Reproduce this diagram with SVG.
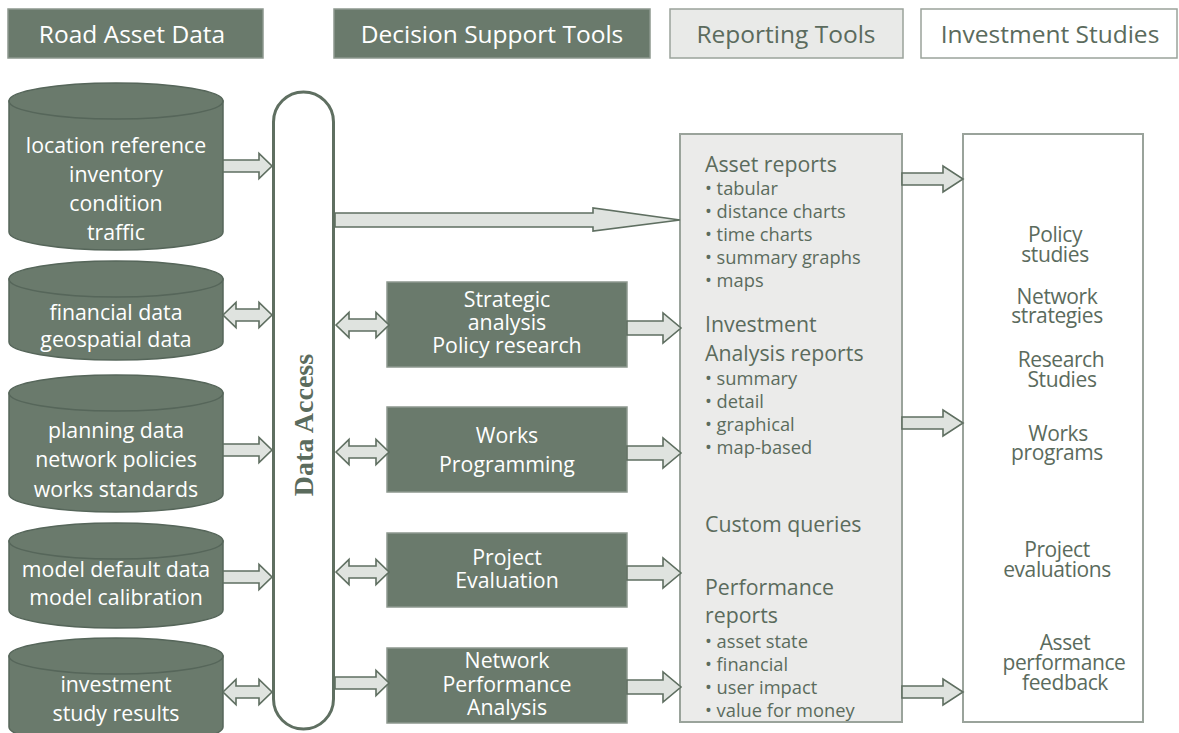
<svg xmlns="http://www.w3.org/2000/svg" width="1179" height="733" viewBox="0 0 1179 733">
<style>
.hdrD{fill:#6a7a6c;stroke:#8d988e;stroke-width:1.5}
.hdrL{fill:#e9eae8;stroke:#9aa39b;stroke-width:1.5}
.hdrW{fill:#ffffff;stroke:#9aa39b;stroke-width:1.5}
.ht{font-family:"Open Sans","Noto Sans",sans-serif;font-size:24.5px;text-anchor:middle}
.w{fill:#ffffff}
.g{fill:#5b6b5d}
.cyl{fill:#6a7a6c;stroke:#56665a;stroke-width:1.5}
.ct{font-family:"Open Sans","Noto Sans",sans-serif;font-size:21.3px;text-anchor:middle;fill:#ffffff}
.box{fill:#6a7a6c;stroke:#8d988e;stroke-width:1.5}
.bt{font-family:"Open Sans","Noto Sans",sans-serif;font-size:21.3px;text-anchor:middle;fill:#ffffff}
.arr{fill:#dfe3df;stroke:#5f6f61;stroke-width:1.6;stroke-linejoin:miter}
.rt{font-family:"Open Sans","Noto Sans",sans-serif;font-size:21.3px;fill:#5b6b5d}
.rb{font-family:"Open Sans","Noto Sans",sans-serif;font-size:18.3px;fill:#5b6b5d}
.it{font-family:"Open Sans","Noto Sans",sans-serif;font-size:21px;fill:#5b6b5d;text-anchor:middle;letter-spacing:-0.4px}
</style>

<!-- headers -->
<g id="hdr-road"><rect class="hdrD" x="8" y="9" width="255" height="49"/><text class="ht w" x="132" y="43">Road Asset Data</text></g>
<g id="hdr-decision"><rect class="hdrD" x="334" y="9" width="316" height="49"/><text class="ht w" x="492" y="43">Decision Support Tools</text></g>
<g id="hdr-reporting"><rect class="hdrL" x="670" y="9" width="233" height="49"/><text class="ht g" x="786" y="43">Reporting Tools</text></g>
<g id="hdr-investment"><rect class="hdrW" x="921" y="9" width="256" height="49"/><text class="ht g" x="1050" y="43">Investment Studies</text></g>

<!-- cylinders -->
<g id="cyl1">
<path class="cyl" d="M9,101 L9,232 A107,18 0 0 0 223,232 L223,101 Z"/>
<ellipse class="cyl" cx="116" cy="101" rx="107" ry="18"/>
<text class="ct" x="116" y="153">location reference</text>
<text class="ct" x="116" y="182">inventory</text>
<text class="ct" x="116" y="211">condition</text>
<text class="ct" x="116" y="240">traffic</text>
</g>
<g id="cyl2">
<path class="cyl" d="M9,279 L9,342 A107,18 0 0 0 223,342 L223,279 Z"/>
<ellipse class="cyl" cx="116" cy="279" rx="107" ry="18"/>
<text class="ct" x="116" y="320">financial data</text>
<text class="ct" x="116" y="347">geospatial data</text>
</g>
<g id="cyl3">
<path class="cyl" d="M9,393 L9,494 A107,18 0 0 0 223,494 L223,393 Z"/>
<ellipse class="cyl" cx="116" cy="393" rx="107" ry="18"/>
<text class="ct" x="116" y="438">planning data</text>
<text class="ct" x="116" y="467">network policies</text>
<text class="ct" x="116" y="497">works standards</text>
</g>
<g id="cyl4">
<path class="cyl" d="M9,541 L9,610 A107,18 0 0 0 223,610 L223,541 Z"/>
<ellipse class="cyl" cx="116" cy="541" rx="107" ry="18"/>
<text class="ct" x="116" y="577">model default data</text>
<text class="ct" x="116" y="605">model calibration</text>
</g>
<g id="cyl5">
<path class="cyl" d="M9,656 L9,727 A107,18 0 0 0 223,727 L223,656 Z"/>
<ellipse class="cyl" cx="116" cy="656" rx="107" ry="18"/>
<text class="ct" x="116" y="692">investment</text>
<text class="ct" x="116" y="721">study results</text>
</g>

<!-- data access pill -->
<g id="data-access">
<rect x="273.5" y="92" width="60" height="637" rx="30" ry="30" fill="#ffffff" stroke="#5f6f61" stroke-width="3"/>
<text transform="translate(313,425) rotate(-90)" font-family="Liberation Serif,serif" font-weight="bold" font-size="28" fill="#5b6b5d" text-anchor="middle">Data Access</text>
</g>

<!-- decision boxes -->
<g id="strategic"><rect class="box" x="387" y="282" width="240" height="85"/>
<text class="bt" x="507" y="307">Strategic</text><text class="bt" x="507" y="330">analysis</text><text class="bt" x="507" y="353">Policy research</text></g>
<g id="works"><rect class="box" x="387" y="407" width="240" height="85"/>
<text class="bt" x="507" y="443">Works</text><text class="bt" x="507" y="472">Programming</text></g>
<g id="project"><rect class="box" x="387" y="533" width="240" height="74"/>
<text class="bt" x="507" y="565">Project</text><text class="bt" x="507" y="588">Evaluation</text></g>
<g id="network"><rect class="box" x="387" y="648" width="240" height="75"/>
<text class="bt" x="507" y="668">Network</text><text class="bt" x="507" y="692">Performance</text><text class="bt" x="507" y="715">Analysis</text></g>

<!-- reporting tools box -->
<g id="reporting">
<rect x="680" y="134" width="222" height="588" fill="#ebebea" stroke="#9aa39b" stroke-width="2"/>
<text class="rt" x="705" y="172">Asset reports</text>
<text class="rb" x="705" y="195">• tabular</text>
<text class="rb" x="705" y="218">• distance charts</text>
<text class="rb" x="705" y="241">• time charts</text>
<text class="rb" x="705" y="264">• summary graphs</text>
<text class="rb" x="705" y="287">• maps</text>
<text class="rt" x="705" y="332">Investment</text>
<text class="rt" x="705" y="361">Analysis reports</text>
<text class="rb" x="705" y="385">• summary</text>
<text class="rb" x="705" y="408">• detail</text>
<text class="rb" x="705" y="431">• graphical</text>
<text class="rb" x="705" y="454">• map-based</text>
<text class="rt" x="705" y="532">Custom queries</text>
<text class="rt" x="705" y="595">Performance</text>
<text class="rt" x="705" y="623">reports</text>
<text class="rb" x="705" y="648">• asset state</text>
<text class="rb" x="705" y="671">• financial</text>
<text class="rb" x="705" y="694">• user impact</text>
<text class="rb" x="705" y="717">• value for money</text>
</g>

<!-- investment studies box -->
<g id="investment">
<rect x="963" y="134" width="180" height="588" fill="#ffffff" stroke="#9aa39b" stroke-width="2"/>
<text class="it" x="1055" y="242">Policy</text><text class="it" x="1055" y="262">studies</text>
<text class="it" x="1057" y="304">Network</text><text class="it" x="1057" y="323">strategies</text>
<text class="it" x="1061" y="367">Research</text><text class="it" x="1062" y="387">Studies</text>
<text class="it" x="1058" y="441">Works</text><text class="it" x="1057" y="460">programs</text>
<text class="it" x="1057" y="557">Project</text><text class="it" x="1057" y="577">evaluations</text>
<text class="it" x="1065" y="650">Asset</text><text class="it" x="1064" y="670">performance</text><text class="it" x="1065" y="690">feedback</text>
</g>

<!-- connectors -->
<g id="connectors">
<!-- cylinders to pill -->
<polygon class="arr" points="223,160 259,160 259,153.5 272,166 259,178.5 259,172 223,172"/>
<polygon class="arr" points="223,315 236,302.5 236,309 259,309 259,302.5 272,315 259,327.5 259,321 236,321 236,327.5"/>
<polygon class="arr" points="223,444 259,444 259,437.5 272,450 259,462.5 259,456 223,456"/>
<polygon class="arr" points="223,571 259,571 259,564.5 272,577 259,589.5 259,583 223,583"/>
<polygon class="arr" points="223,692 236,679.5 236,686 259,686 259,679.5 272,692 259,704.5 259,698 236,698 236,704.5"/>
<!-- pill to reporting long arrow -->
<polygon class="arr" points="335,213 593,213 593,208 680,220 593,231 593,227 335,227"/>
<!-- pill to decision boxes -->
<polygon class="arr" points="336,325 349,312.5 349,319 376,319 376,312.5 389,325 376,337.5 376,331 349,331 349,337.5"/>
<polygon class="arr" points="336,452 349,439.5 349,446 376,446 376,439.5 389,452 376,464.5 376,458 349,458 349,464.5"/>
<polygon class="arr" points="336,572 349,559.5 349,566 376,566 376,559.5 389,572 376,584.5 376,578 349,578 349,584.5"/>
<polygon class="arr" points="335,677 376,677 376,670.5 389,683 376,695.5 376,689 335,689"/>
<!-- decision boxes to reporting -->
<polygon class="arr" points="627,321 663,321 663,313 681,328 663,343 663,335 627,335"/>
<polygon class="arr" points="627,446 663,446 663,438 681,453 663,468 663,460 627,460"/>
<polygon class="arr" points="627,566 663,566 663,558 681,573 663,588 663,580 627,580"/>
<polygon class="arr" points="627,680 663,680 663,672 681,687 663,702 663,694 627,694"/>
<!-- reporting to investment -->
<polygon class="arr" points="902,173 943,173 943,166 963,179 943,192 943,185 902,185"/>
<polygon class="arr" points="902,417 943,417 943,410 963,423 943,436 943,429 902,429"/>
<polygon class="arr" points="902,686 943,686 943,679 963,692 943,705 943,698 902,698"/>
</g>
</svg>
